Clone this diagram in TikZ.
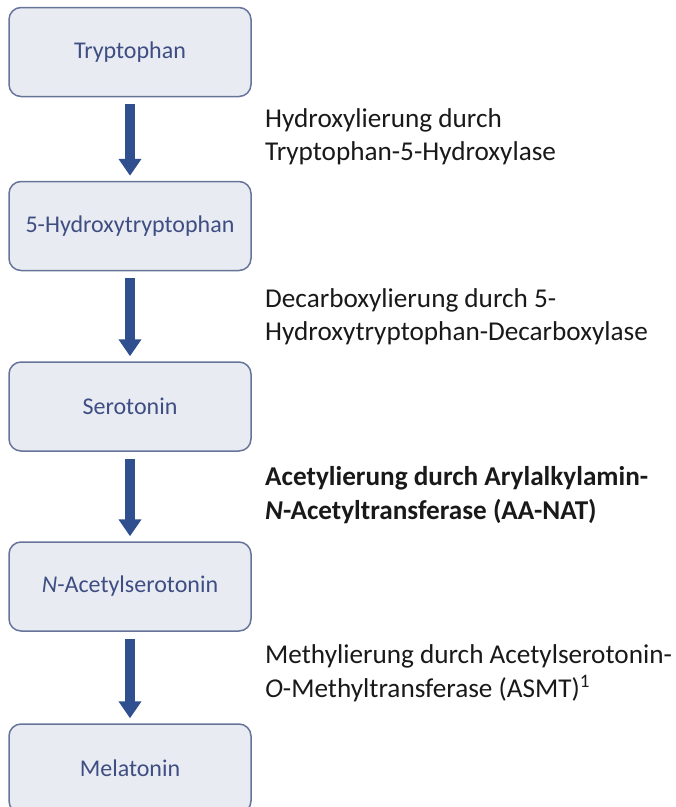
\documentclass[tikz,border=0pt]{standalone}
\usepackage{fontspec}
\setmainfont{Carlito}
\usetikzlibrary{arrows.meta}
\definecolor{boxfill}{HTML}{E9EBF3}
\definecolor{boxline}{HTML}{66749A}
\definecolor{boxtext}{HTML}{3E4E82}
\definecolor{arrowblue}{HTML}{2F4F8F}
\tikzset{
  stage/.style={draw=boxline, fill=boxfill, rounded corners=12pt, line width=1.5pt,
    minimum width=242pt, minimum height=89pt, text=boxtext,
    font=\fontsize{24}{29}\selectfont},
  pathway/.style={draw=arrowblue, line width=10pt,
    -{Triangle[width=22pt,length=17pt]}, shorten <=7pt, shorten >=5pt},
  enzyme/.style={anchor=west, align=left, inner sep=0pt, text=black!90,
    font=\fontsize{27.2}{33.5}\selectfont}
}
\begin{document}
\begin{tikzpicture}[x=1pt,y=-1pt]
    \useasboundingbox (0,0) rectangle (676,807);
    % stages
    \node[stage] (trp) at (130,52) {Tryptophan};
    \node[stage] (htp) at (130,226) {5-Hydroxytryptophan};
    \node[stage] (ser) at (130,406.5) {Serotonin};
    \node[stage] (nas) at (130,586.5) {\textit{N}-Acetylserotonin};
    \node[stage] (mel) at (130,768.5) {Melatonin};
    % arrows
    \draw[pathway] (trp) -- (htp);
    \draw[pathway] (htp) -- (ser);
    \draw[pathway] (ser) -- (nas);
    \draw[pathway] (nas) -- (mel);
    % enzymes
    \node[enzyme] (tph) at (265,136.5) {Hydroxylierung durch\\Tryptophan-5-Hydroxylase};
    \node[enzyme] (aadc) at (265,316.5) {Decarboxylierung durch 5-\\Hydroxytryptophan-Decarboxylase};
    \node[enzyme] (aanat) at (265,495) {\textbf{Acetylierung durch Arylalkylamin-}\\\textbf{\textit{N}-Acetyltransferase (AA-NAT)}};
    \node[enzyme] (asmt) at (265,673) {Methylierung durch Acetylserotonin-\\\textit{O}-Methyltransferase (ASMT)\textsuperscript{1}};
\end{tikzpicture}
\end{document}
